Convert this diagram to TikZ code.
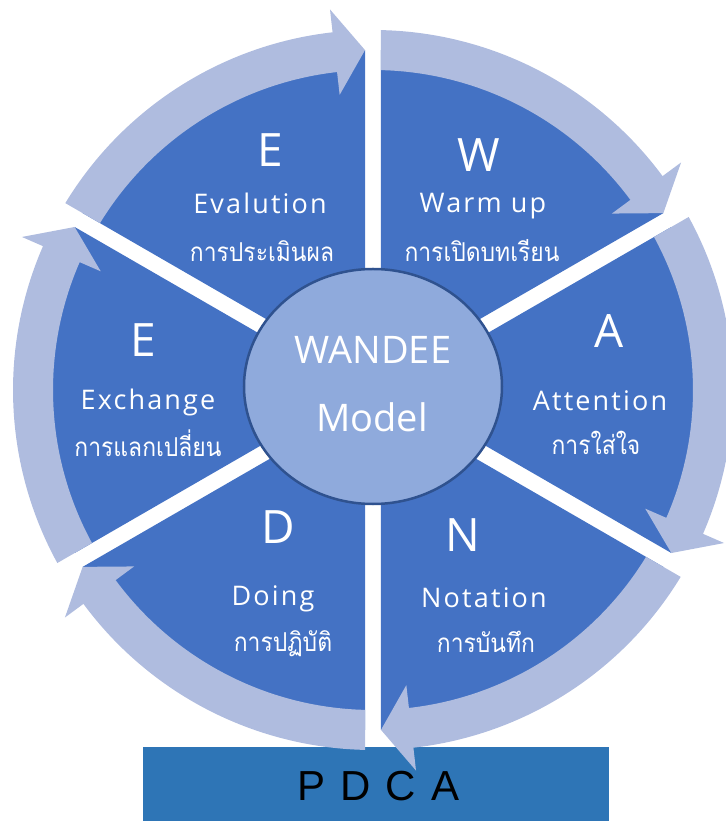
\documentclass[tikz,border=0pt]{standalone}
\usepackage{fontspec}
\usepackage{graphicx}
\setmainfont{Open Sans}
\newfontfamily\thaifont[Script=Thai]{Loma}
\newfontfamily\latinsp[LetterSpace=8]{Open Sans}
\newfontfamily\pdcafont{Liberation Sans}
\definecolor{segblue}{HTML}{4472C4}
\definecolor{bandblue}{HTML}{AFBCDF}
\definecolor{hubfill}{HTML}{8FAADC}
\definecolor{hubline}{HTML}{2F528F}
\definecolor{barblue}{HTML}{2E75B6}
\usetikzlibrary{shapes.geometric}
\newcommand{\thaisq}[1]{\scalebox{0.88}[1]{#1}}
\tikzset{
  bigletter/.style={text=white, font=\fontsize{46}{50}\selectfont, anchor=base, inner sep=0pt},
  midtext/.style={text=white, font=\latinsp\fontsize{27}{30}\selectfont, anchor=base, inner sep=0pt},
  thaitext/.style={text=white, font=\thaifont\fontsize{26}{30}\selectfont, anchor=base, inner sep=0pt},
  hubtext/.style={text=white, font=\fontsize{38}{42}\selectfont, anchor=base, inner sep=0pt},
  segment/.style={fill=segblue},
  band/.style={fill=bandblue}
}
\begin{document}
\begin{tikzpicture}[x=1pt,y=1pt]
\useasboundingbox (-373,-431) rectangle (352,390);
% six segments
\foreach \b in {60,0,-60,-120,180,120}{
  \fill[segment] (\b:16) -- ({\b-30+asin(8/340)}:340)
    arc[start angle={\b-30+asin(8/340)}, end angle={\b+30-asin(8/340)}, radius=340] -- cycle;
}
% PDCA bar
\node[fill=barblue, minimum width=466pt, minimum height=74pt, inner sep=0pt, anchor=north west] (bar) at (-230,-357) {};
\node[anchor=base, inner sep=0pt, font=\pdcafont\fontsize{42}{46}\selectfont] (pdca) at (5.5,-410) {P\hspace{15pt}D\hspace{15pt}C\hspace{15pt}A};
% circular arrows
\foreach \g in {90,30,-30,-90,-150,150}{
  \pgfmathsetmacro{\ts}{\g-asin(8/360)}
  \pgfmathsetmacro{\ti}{\g-asin(8/320)}
  \pgfmathsetmacro{\tp}{\g-60+asin(8/340)}
  \pgfmathsetmacro{\hb}{\tp+5.1}
  \fill[band] (\ts:360) arc[start angle=\ts, end angle=\hb, radius=360]
    -- (\hb:383) -- (\tp:340) -- (\hb:297) -- (\hb:320)
    arc[start angle=\hb, end angle=\ti, radius=320] -- cycle;
}
% hub
\node[ellipse, draw=hubline, line width=2.5pt, fill=hubfill, minimum width=258pt, minimum height=235pt, inner sep=0pt] (hub) at (0,3.5) {};
\node[hubtext] (wandee) at (0,26) {WANDEE};
\node[hubtext] (model) at (-1,-42) {Model};
% W
\node[bigletter] (wl) at (106,218) {W};
\node[midtext] (wt) at (110,177) {Warm up};
\node[thaitext] (wth) at (109,128) {\thaisq{การเปิดบทเรียน}};
% A
\node[bigletter] (al) at (236,42) {A};
\node[midtext] (at) at (227,-21) {Attention};
\node[thaitext] (ath) at (223,-65) {\thaisq{การใส่ใจ}};
% N
\node[bigletter] (nl) at (90,-161) {N};
\node[midtext] (nt) at (111,-217) {Notation};
\node[thaitext] (nth) at (113,-262) {\thaisq{การบันทึก}};
% D
\node[bigletter] (dl) at (-95,-153) {D};
\node[midtext] (dt) at (-100,-215) {Doing};
\node[thaitext] (dth) at (-90,-261) {\thaisq{การปฏิบัติ}};
% E exchange
\node[bigletter] (xl) at (-230,33) {E};
\node[midtext] (xt) at (-225,-20) {Exchange};
\node[thaitext] (xth) at (-225,-67) {\thaisq{การแลกเปลี่ยน}};
% E evaluation
\node[bigletter] (el) at (-103,223) {E};
\node[midtext] (et) at (-113,176) {Evalution};
\node[thaitext] (eth) at (-111,128) {\thaisq{การประเมินผล}};
\end{tikzpicture}
\end{document}
